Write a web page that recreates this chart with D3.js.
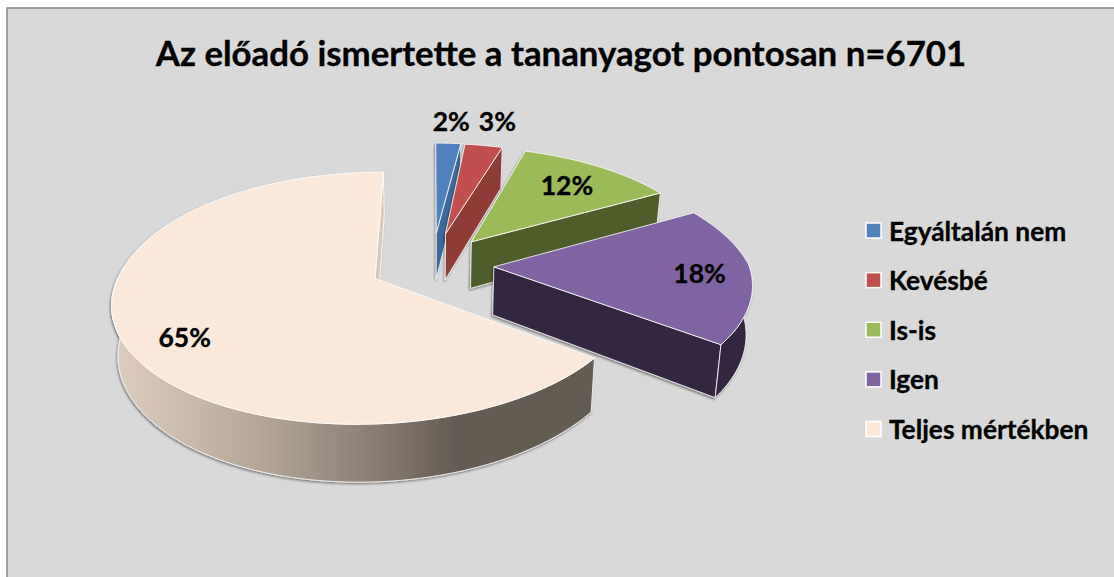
<!DOCTYPE html>
<html>
<head>
<meta charset="utf-8">
<script src="https://cdn.jsdelivr.net/npm/d3@7"></script>
<style>
  html, body { margin: 0; padding: 0; background: #fff; overflow: hidden; }
  text { font-family: Lato, "Open Sans", sans-serif; font-weight: 700; fill: #000; stroke: #000; stroke-width: 0.35px; }
</style>
</head>
<body>
<svg id="chart" width="1114" height="577"></svg>
<script>
const titleText = 'Az előadó ismertette a tananyagot pontosan n=6701';
const categories = ['Egyáltalán nem', 'Kevésbé', 'Is-is', 'Igen', 'Teljes mértékben'];
const values = [2, 3, 12, 18, 65];
const labels = ['2%', '3%', '12%', '18%', '65%'];

const topColors = ['#4f81bd', '#c0504d', '#9bbb59', '#8064a2', '#fae9da'];
const sideColors = ['#3d6a9b', '#8f3b39', '#4f5d2b', '#32273f', 'url(#bigSide)'];
const wallColors = ['#3d6a9b', '#8f3b39', '#4f5d2b', '#32273f', '#d9c9bb'];
const legendFills = ['#4f81bd', '#c0504d', '#9bbb59', '#8064a2', '#fde9d9'];

// per slice tuning, the picture is not a clean projection
const explode = [71, 71, 66, 62, 62];
const radius = [237, 237, 245, 255, 253];
const skewBack = [0, 0.02, 0.03, 0.04, 0];
const skewFront = [0, 0, 0, 0.04, 0.025];
const labelDist = [1.29, 1.327, 0.73, 0.8, 0.77];
const labelShift = [[0, 0], [3, 0], [0, 0], [0, 0], [2, 13]];

const centerX = 432;
const centerY = 265;
const tilt = 0.47;
const camera = 1650;
const depth = 48;

const svg = d3.select('#chart');
const defs = svg.append('defs');

const grad = defs.append('linearGradient')
  .attr('id', 'bigSide')
  .attr('gradientUnits', 'userSpaceOnUse')
  .attr('x1', 115).attr('x2', 596).attr('y1', 0).attr('y2', 0);
[[0, '#dccdbf'], [0.3, '#b5a698'], [0.54, '#8a7d72'], [0.71, '#645b53'], [1, '#645b53']]
  .forEach(s => grad.append('stop').attr('offset', s[0]).attr('stop-color', s[1]));

const shadow = defs.append('filter')
  .attr('id', 'soft')
  .attr('x', '-10%').attr('y', '-10%').attr('width', '120%').attr('height', '125%');
shadow.append('feDropShadow')
  .attr('dx', -1).attr('dy', 1.5).attr('stdDeviation', 1.2)
  .attr('flood-color', '#000').attr('flood-opacity', 0.45);

// chart background, runs off the right and bottom of the picture
svg.append('rect')
  .attr('x', 7).attr('y', 8)
  .attr('width', 1200).attr('height', 600)
  .attr('fill', '#d9d9d9')
  .attr('stroke', '#868686')
  .attr('stroke-width', 1.5);

svg.append('text')
  .attr('x', 561).attr('y', 66)
  .attr('text-anchor', 'middle')
  .attr('font-size', 34.8)
  .text(titleText);

// project a world point (x right, y to the back) to the screen
function project(i, wx, wy, low) {
  const s = 1 / (1 + wy / camera);
  const skewed = wy < 0 ? wx + skewFront[i] * wy : wx - skewBack[i] * wy;
  let x = centerX + skewed * s;
  let y = centerY - wy * tilt * s;
  if (low) {
    x = centerX + (x - centerX) * 0.98;
    y += depth * s;
  }
  return [x, y];
}

const pie = d3.pie().sort(null).value(d => d);
const arcs = pie(values).map((a, i) => {
  const mid = (a.startAngle + a.endAngle) / 2;
  return {
    index: i,
    start: a.startAngle,
    end: a.endAngle,
    mid,
    ox: explode[i] * Math.sin(mid),
    oy: explode[i] * Math.cos(mid),
    r: radius[i],
  };
});

function rimPoint(d, angle, r, low) {
  return project(d.index, d.ox + r * Math.sin(angle), d.oy + r * Math.cos(angle), low);
}

function rim(d, from, to, low) {
  const n = Math.max(2, Math.ceil(Math.abs(to - from) * 40));
  return d3.range(n + 1).map(k => rimPoint(d, from + (to - from) * k / n, d.r, low));
}

const line = d3.line().curve(d3.curveLinearClosed);

const sliceGroups = svg.selectAll('g.slice')
  .data(arcs)
  .join('g')
  .attr('class', 'slice')
  .attr('filter', 'url(#soft)');

// radial wall at the end angle of the slice
sliceGroups.append('path')
  .attr('d', d => line([
    rimPoint(d, d.end, 0, false),
    rimPoint(d, d.end, d.r, false),
    rimPoint(d, d.end, d.r, true),
    rimPoint(d, d.end, 0, true),
  ]))
  .attr('fill', d => wallColors[d.index])
  .attr('stroke', '#fff')
  .attr('stroke-width', 0.8)
  .attr('stroke-linejoin', 'round');

// the rim, only where it faces the front
sliceGroups.filter(d => d.end > Math.PI / 2 && d.start < 1.55 * Math.PI)
  .append('path')
  .attr('d', d => {
    const from = Math.max(d.start, Math.PI / 2);
    const to = Math.min(d.end, 1.55 * Math.PI);
    return line(rim(d, from, to, false).concat(rim(d, to, from, true)));
  })
  .attr('fill', d => sideColors[d.index])
  .attr('stroke', '#fff')
  .attr('stroke-width', 0.8)
  .attr('stroke-linejoin', 'round');

// top face
sliceGroups.append('path')
  .attr('d', d => line([rimPoint(d, d.start, 0, false)].concat(rim(d, d.start, d.end, false))))
  .attr('fill', d => topColors[d.index])
  .attr('stroke', '#fff')
  .attr('stroke-width', 0.8)
  .attr('stroke-linejoin', 'round');

// data labels
svg.selectAll('text.pct')
  .data(arcs)
  .join('text')
  .attr('class', 'pct')
  .attr('text-anchor', 'middle')
  .attr('dominant-baseline', 'central')
  .attr('font-size', 26.5)
  .attr('x', d => rimPoint(d, d.mid, d.r * labelDist[d.index], false)[0] + labelShift[d.index][0])
  .attr('y', d => rimPoint(d, d.mid, d.r * labelDist[d.index], false)[1] + labelShift[d.index][1])
  .text(d => labels[d.index]);

// legend
const legendY = d3.scalePoint()
  .domain(categories)
  .range([230.5, 429]);

const legend = svg.selectAll('g.legend')
  .data(categories)
  .join('g')
  .attr('class', 'legend')
  .attr('transform', d => `translate(866, ${legendY(d)})`);

legend.append('rect')
  .attr('x', 0).attr('y', -7.5)
  .attr('width', 15).attr('height', 15)
  .attr('fill', (d, i) => legendFills[i])
  .attr('stroke', '#fff')
  .attr('stroke-width', 1.5);

legend.append('text')
  .attr('x', 23)
  .attr('dominant-baseline', 'central')
  .attr('font-size', 26.3)
  .text(d => d);
</script>
</body>
</html>
